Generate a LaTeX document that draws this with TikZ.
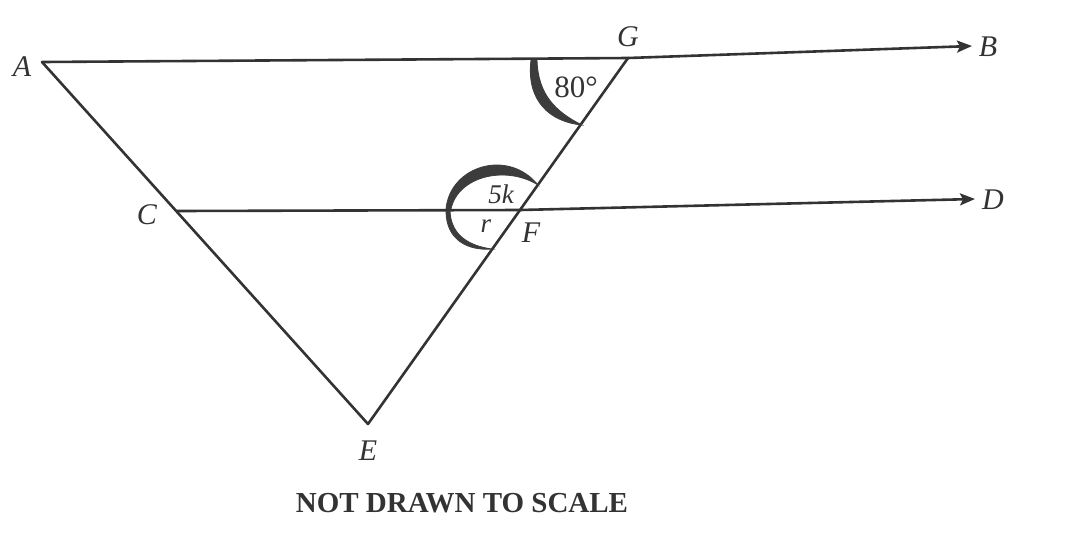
\documentclass[tikz,border=0pt]{standalone}
\usepackage{fontspec}
\setmainfont{Liberation Serif}
\usetikzlibrary{arrows.meta}
\definecolor{ink}{HTML}{333333}
\definecolor{arcink}{HTML}{3C3C3C}
\begin{document}
\begin{tikzpicture}[x=1pt,y=-1pt,
  seg/.style={draw=ink,line width=2.6pt,line cap=round,line join=round},
  ray/.style={seg,-{Stealth[length=15pt,width=12pt,inset=3pt]}},
  lbl/.style={text=ink,font=\fontsize{30}{32}\selectfont\itshape,inner sep=0pt},
  small/.style={text=ink,font=\fontsize{27}{29}\selectfont\itshape,inner sep=0pt},
  arcfill/.style={fill=arcink,draw=arcink,line width=0.8pt}]
\useasboundingbox (0,0) rectangle (1080,542);
\coordinate (A) at (42,62);
\coordinate (G) at (628,58);
\coordinate (B) at (972,46);
\coordinate (C) at (177,211);
\coordinate (F) at (520,210);
\coordinate (D) at (975,199);
\coordinate (E) at (368,424);
% lines
\draw[seg] (A) -- (E) -- (G);
\draw[ray] (A) -- (G) -- (B);
\draw[ray] (C) -- (F) -- (D);
% angle marks
\filldraw[arcfill] (531,60) .. controls (526,101) and (550,122) .. (582,125)
  .. controls (556,112) and (538,95) .. (537,60) -- cycle;
\filldraw[arcfill] (446,209) .. controls (450,166) and (508,148) .. (538,185)
  .. controls (506,165) and (458,176) .. (451,209) -- cycle;
\filldraw[arcfill] (446,211) .. controls (446,240) and (468,251) .. (492,249)
  .. controls (470,246) and (451,236) .. (450,211) -- cycle;
% labels
\node[lbl] (lA) at (22,67) {A};
\node[lbl] (lG) at (628,37) {G};
\node[lbl] (lB) at (988,47) {B};
\node[lbl] (lC) at (147,215) {C};
\node[lbl] (lD) at (993,200) {D};
\node[lbl] (lF) at (531,233) {F};
\node[lbl] (lE) at (368,451) {E};
\node[small] (l5k) at (501,194) {5k};
\node[small] (lr) at (486,226) {r};
\node[text=ink,font=\fontsize{31}{33}\selectfont,inner sep=0pt] (l80) at (576,87) {80°};
\node[text=ink,font=\fontsize{29}{31}\selectfont\bfseries,inner sep=0pt] (note) at (462,503) {NOT DRAWN TO SCALE};
\end{tikzpicture}
\end{document}
